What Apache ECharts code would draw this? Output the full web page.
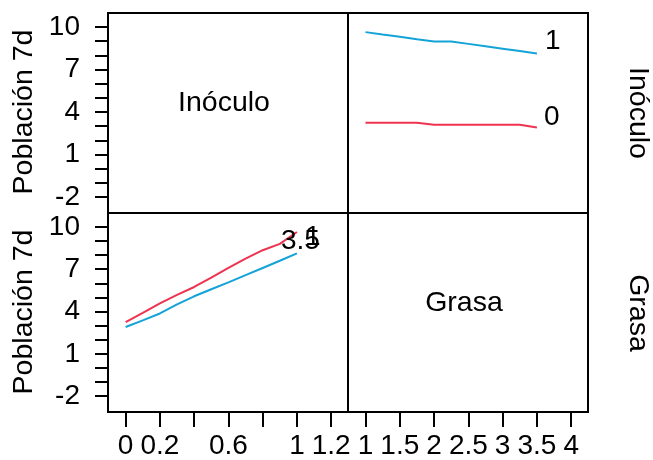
<!DOCTYPE html>
<html>
<head>
<meta charset="utf-8">
<script src="https://cdn.jsdelivr.net/npm/echarts@6/dist/echarts.min.js"></script>
<style>
  html, body { margin: 0; padding: 0; background: #fff; }
  #chart { width: 653px; height: 460px; }
</style>
</head>
<body>
<div id="chart"></div>
<script>
// Interaction plot: Población 7d by Grasa and Inóculo
const grasaLevels = [1, 1.25, 1.5, 1.75, 2, 2.25, 2.5, 2.75, 3, 3.25, 3.5];
const popInoculo0 = [3.24, 3.24, 3.24, 3.24, 3.10, 3.10, 3.10, 3.10, 3.10, 3.10, 2.90];
const popInoculo1 = [9.64, 9.47, 9.31, 9.14, 8.98, 8.98, 8.81, 8.64, 8.47, 8.30, 8.13];

const inoculoLevels = [0, 0.1, 0.2, 0.3, 0.4, 0.5, 0.6, 0.7, 0.8, 0.9, 1.0];
const popGrasa1 = [3.24, 3.90, 4.58, 5.18, 5.74, 6.40, 7.09, 7.75, 8.35, 8.80, 9.64];
const popGrasa35 = [2.90, 3.37, 3.86, 4.50, 5.08, 5.58, 6.07, 6.58, 7.09, 7.60, 8.13];

const labelsByInoculo = ['0', '1'];
const labelsByGrasa = ['1', '3.5'];

const yTicks = [-2, -1, 0, 1, 2, 3, 4, 5, 6, 7, 8, 9, 10];
const yTickLabels = [-2, 1, 4, 7, 10];
const inoculoTicks = [0, 0.2, 0.4, 0.6, 0.8, 1.0, 1.2];
const inoculoTickLabels = [0, 0.2, 0.6, 1, 1.2];
const grasaTicks = [1, 1.5, 2, 2.5, 3, 3.5, 4];
const grasaTickLabels = [1, 1.5, 2, 2.5, 3, 3.5, 4];

const FONT = 'Liberation Sans, Arial, Helvetica, sans-serif';
const FS = 28;
const FS_TITLE = 28.5;
const RED = '#EE3350';
const BLUE = '#14A3D8';

const pairs = (xs, ys) => xs.map((x, i) => [x, ys[i]]);

const yRange = { min: -3.13, max: 10.99 };
const inoculoRange = { min: -0.103, max: 1.298 };
const grasaRange = { min: 0.745, max: 4.245 };

const gridBase = { show: true, borderColor: '#000', borderWidth: 2, backgroundColor: 'transparent' };

function hiddenAxis(range) {
  return Object.assign({ type: 'value', show: false, axisLine: { onZero: false }, splitLine: { show: false } }, range);
}

function yShown(gridIndex) {
  return Object.assign({
    type: 'value', gridIndex, position: 'left',
    axisLine: { show: false, onZero: false },
    splitLine: { show: false },
    axisTick: { show: true, inside: false, length: 13, customValues: yTicks, lineStyle: { color: '#000', width: 2 } },
    axisLabel: { show: true, customValues: yTickLabels, margin: 28, fontSize: FS, fontFamily: FONT, color: '#000',
                 showMinLabel: true, showMaxLabel: true, hideOverlap: false }
  }, yRange);
}

function xShown(gridIndex, range, ticks, labels) {
  return Object.assign({
    type: 'value', gridIndex, position: 'bottom',
    axisLine: { show: false, onZero: false },
    splitLine: { show: false },
    axisTick: { show: true, inside: false, length: 15, customValues: ticks, lineStyle: { color: '#000', width: 2 } },
    axisLabel: { show: true, customValues: labels, margin: 20, fontSize: FS, fontFamily: FONT, color: '#000',
                 lineHeight: FS, showMinLabel: true, showMaxLabel: true, hideOverlap: false }
  }, range);
}

function lineSeries(xi, yi, data, color, text, offset) {
  return {
    type: 'line', xAxisIndex: xi, yAxisIndex: yi, data,
    showSymbol: false, symbol: 'none', silent: true, clip: false,
    lineStyle: { color, width: 2 },
    endLabel: {
      show: true, formatter: () => text, distance: 0, offset,
      fontSize: FS, fontFamily: FONT, color: '#000'
    }
  };
}

function txt(text, x, y, rotation) {
  return {
    type: 'text', x, y, rotation: rotation || 0, silent: true,
    style: { text, fontSize: FS_TITLE, fontFamily: FONT, fill: '#000', align: 'center', verticalAlign: 'middle' }
  };
}

const chart = echarts.init(document.getElementById('chart'), null, { renderer: 'canvas' });
chart.setOption({
  animation: false,
  backgroundColor: '#fff',
  grid: [
    Object.assign({ left: 108, top: 13, width: 240, height: 200 }, gridBase),
    Object.assign({ left: 348, top: 13, width: 240, height: 200 }, gridBase),
    Object.assign({ left: 108, top: 213, width: 240, height: 200 }, gridBase),
    Object.assign({ left: 348, top: 213, width: 240, height: 200 }, gridBase)
  ],
  xAxis: [
    Object.assign(hiddenAxis(inoculoRange), { gridIndex: 0 }),
    Object.assign(hiddenAxis(grasaRange), { gridIndex: 1 }),
    xShown(2, inoculoRange, inoculoTicks, inoculoTickLabels),
    xShown(3, grasaRange, grasaTicks, grasaTickLabels)
  ],
  yAxis: [
    yShown(0),
    Object.assign(hiddenAxis(yRange), { gridIndex: 1 }),
    yShown(2),
    Object.assign(hiddenAxis(yRange), { gridIndex: 3 })
  ],
  series: [
    lineSeries(1, 1, pairs(grasaLevels, popInoculo0), RED, labelsByInoculo[0], [7, -10]),
    lineSeries(1, 1, pairs(grasaLevels, popInoculo1), BLUE, labelsByInoculo[1], [8, -12]),
    lineSeries(2, 2, pairs(inoculoLevels, popGrasa1), RED, labelsByGrasa[0], [8, 5]),
    lineSeries(2, 2, pairs(inoculoLevels, popGrasa35), BLUE, labelsByGrasa[1], [-16, -12])
  ],
  graphic: [
    txt('Inóculo', 224, 103),
    txt('Grasa', 464, 303),
    txt('Población 7d', 24, 112, Math.PI / 2),
    txt('Población 7d', 24, 312, Math.PI / 2),
    txt('Inóculo', 638, 113, -Math.PI / 2),
    txt('Grasa', 638, 313, -Math.PI / 2)
  ]
});
</script>
</body>
</html>
